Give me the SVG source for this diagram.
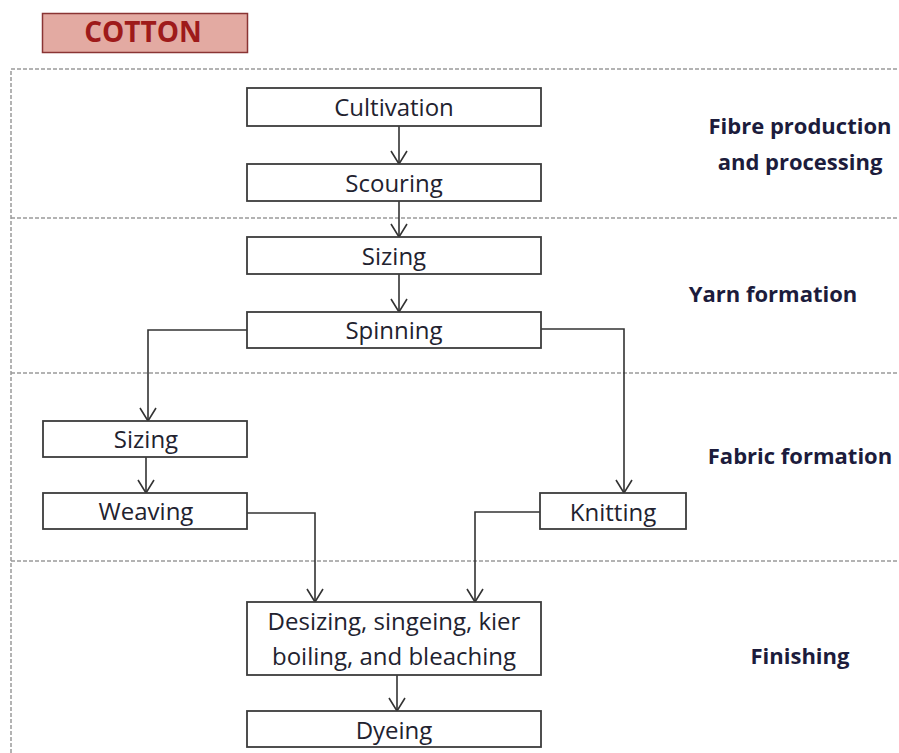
<svg xmlns="http://www.w3.org/2000/svg" width="899" height="753" viewBox="0 0 899 753">
  <style>
    .band { fill: none; stroke: #9a9a9a; stroke-width: 1.5; stroke-dasharray: 4 2; }
    .box { fill: #ffffff; stroke: #3c3c3c; stroke-width: 1.8; }
    .lbl { font-family: "Open Sans", "Liberation Sans", sans-serif; font-size: 24px; fill: #22222f; text-anchor: middle; }
    .sec { font-family: "Open Sans", "Liberation Sans", sans-serif; font-size: 22px; font-weight: bold; fill: #1c1c3c; text-anchor: middle; }
    .wire { fill: none; stroke: #333333; stroke-width: 1.6; marker-end: url(#vee); }
  </style>
  <defs>
    <!-- open V arrowhead, drawn pointing along +x -->
    <marker id="vee" viewBox="0 0 20 20" refX="18" refY="10" markerWidth="20" markerHeight="20" markerUnits="userSpaceOnUse" orient="auto">
      <path d="M5 2 L18 10 L5 18" fill="none" stroke="#333333" stroke-width="1.6"/>
    </marker>
  </defs>
  <rect width="899" height="753" fill="#ffffff"/>

  <!-- title tag -->
  <g id="title">
    <rect x="42.5" y="13.5" width="205" height="39" fill="#e3aaa2" stroke="#8a3434" stroke-width="1.5"/>
    <text x="143" y="42" font-family="'Open Sans', 'Liberation Sans', sans-serif" font-size="28" font-weight="bold" fill="#9e1a1a" text-anchor="middle">COTTON</text>
  </g>

  <!-- stage bands -->
  <g id="bands">
    <path class="band" d="M11 753 V69 H899"/>
    <path class="band" d="M11 218 H899"/>
    <path class="band" d="M11 373 H899"/>
    <path class="band" d="M11 561 H899"/>
  </g>

  <!-- stage labels -->
  <g id="stage-labels">
    <text class="sec" x="800" y="134">Fibre production</text>
    <text class="sec" x="800" y="170">and processing</text>
    <text class="sec" x="773" y="302">Yarn formation</text>
    <text class="sec" x="800" y="464">Fabric formation</text>
    <text class="sec" x="800" y="664">Finishing</text>
  </g>

  <!-- connectors -->
  <g id="connectors">
    <path class="wire" d="M399 126 V164"/>
    <path class="wire" d="M399 201 V237"/>
    <path class="wire" d="M399 274 V312"/>
    <path class="wire" d="M247 330 H148 V421"/>
    <path class="wire" d="M541 329 H624 V493"/>
    <path class="wire" d="M146 457 V493"/>
    <path class="wire" d="M247 513 H315 V602"/>
    <path class="wire" d="M540 512 H475 V602"/>
    <path class="wire" d="M397 675 V711"/>
  </g>

  <!-- process steps -->
  <g id="cultivation">
    <rect class="box" x="247" y="88" width="294" height="38"/>
    <text class="lbl" x="394" y="116">Cultivation</text>
  </g>
  <g id="scouring">
    <rect class="box" x="247" y="164" width="294" height="37"/>
    <text class="lbl" x="394" y="192">Scouring</text>
  </g>
  <g id="sizing-yarn">
    <rect class="box" x="247" y="237" width="294" height="37"/>
    <text class="lbl" x="394" y="265">Sizing</text>
  </g>
  <g id="spinning">
    <rect class="box" x="247" y="312" width="294" height="36"/>
    <text class="lbl" x="394" y="339">Spinning</text>
  </g>
  <g id="sizing-fabric">
    <rect class="box" x="43" y="421" width="204" height="36"/>
    <text class="lbl" x="146" y="448">Sizing</text>
  </g>
  <g id="weaving">
    <rect class="box" x="43" y="493" width="204" height="36"/>
    <text class="lbl" x="146" y="520">Weaving</text>
  </g>
  <g id="knitting">
    <rect class="box" x="540" y="493" width="146" height="36"/>
    <text class="lbl" x="613" y="521">Knitting</text>
  </g>
  <g id="finishing-prep">
    <rect class="box" x="247" y="602" width="294" height="73"/>
    <text class="lbl" x="394" y="630">Desizing, singeing, kier</text>
    <text class="lbl" x="394" y="665">boiling, and bleaching</text>
  </g>
  <g id="dyeing">
    <rect class="box" x="247" y="711" width="294" height="36"/>
    <text class="lbl" x="394" y="739">Dyeing</text>
  </g>
</svg>
